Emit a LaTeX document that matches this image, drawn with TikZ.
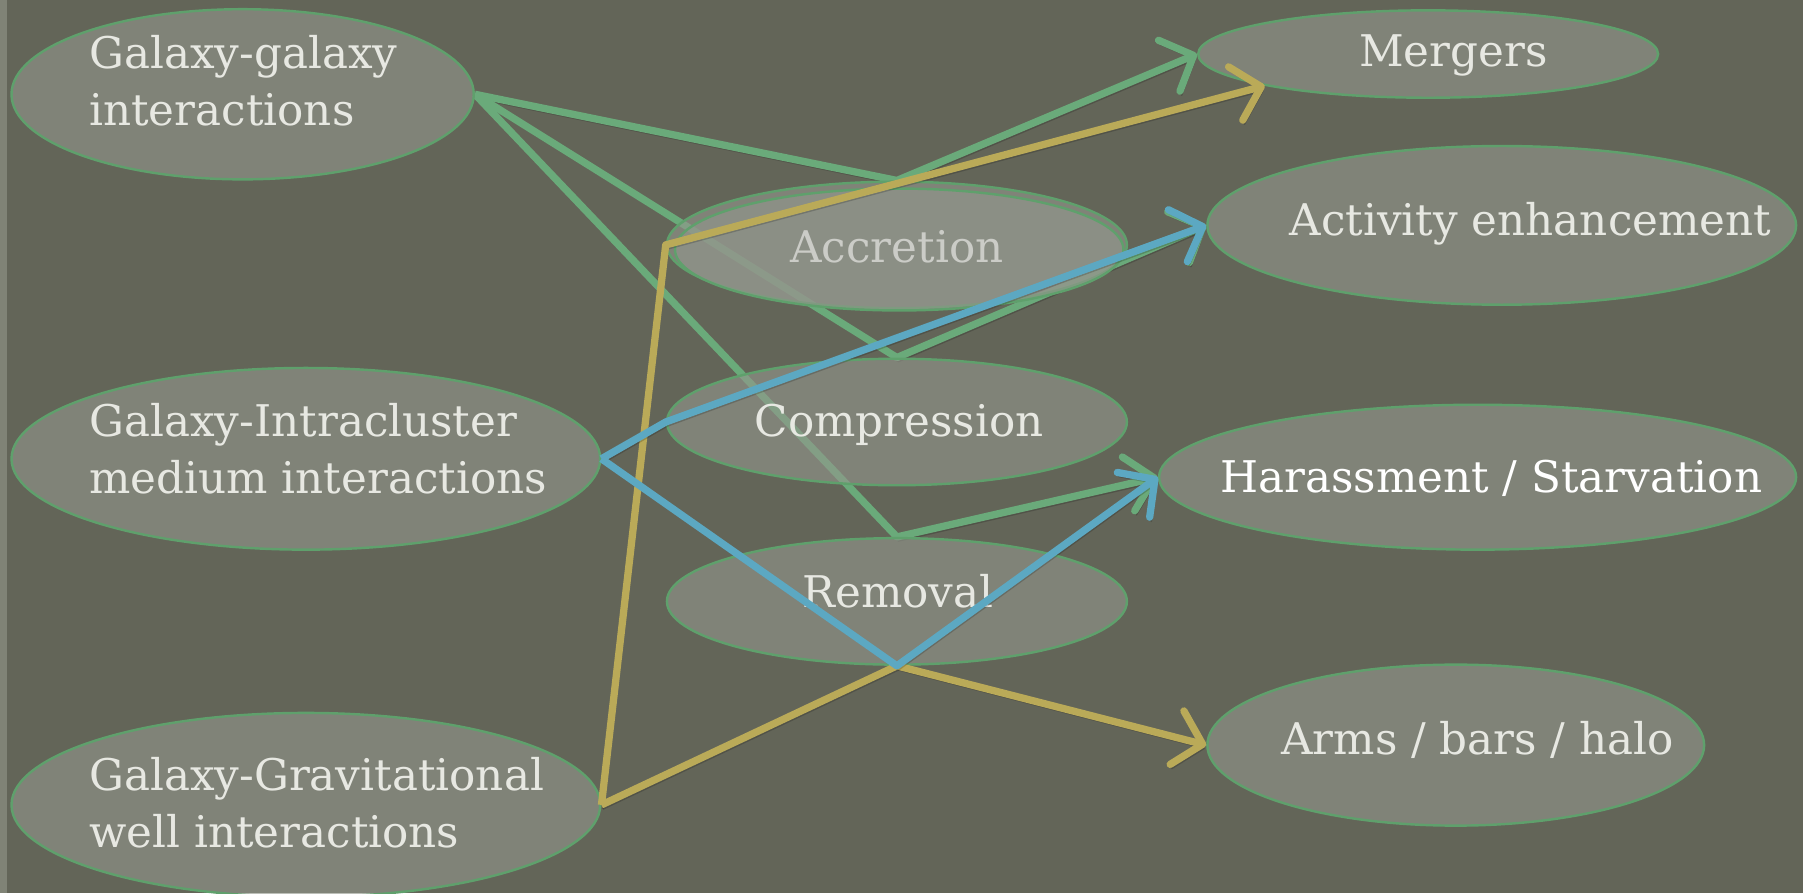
\documentclass[tikz,border=0pt]{standalone}
\usepackage{fontspec}
\setmainfont{DejaVu Serif}
\usepackage{xcolor}
\usepackage{tikz}
\usetikzlibrary{arrows.meta,calc,positioning,shapes.geometric}

\definecolor{bgolive}{RGB}{99,101,88}
\definecolor{stripfill}{RGB}{128,131,118}
\definecolor{bubblefill}{RGB}{147,151,141}
\definecolor{bubbleline}{RGB}{95,160,108}
\definecolor{txtgray}{RGB}{231,232,226}
\definecolor{lngreen}{RGB}{106,170,122}
\definecolor{lnyellow}{RGB}{186,170,88}
\definecolor{lnblue}{RGB}{92,168,194}

\pgfdeclarelayer{bg}
\pgfdeclarelayer{under}
\pgfsetlayers{bg,under,main}

\begin{document}
\begin{tikzpicture}[
  bubble/.style={ellipse, draw=bubbleline, line width=0.6pt, fill=bubblefill, fill opacity=0.62, inner sep=0pt},
  lbl/.style={text=txtgray, inner sep=0pt, font=\fontsize{10.8}{14}\selectfont},
  link/.style={line width=1.8pt, line join=round, -{Straight Barb[length=2.3mm,width=4.8mm,round]},
    preaction={draw=black, opacity=0.18, transform canvas={xshift=0.4pt,yshift=-1pt}}}
]
\useasboundingbox (0,0) rectangle (15.68,-7.77);
\begin{pgfonlayer}{bg}
  \fill[bgolive] (0,0) rectangle (15.68,-7.77);
  \fill[stripfill] (0,0) rectangle (0.06,-7.77);
\end{pgfonlayer}

% sources
\node[bubble, minimum width=4.02cm, minimum height=1.48cm] (gg) at (2.11,-0.82) {};
\node[bubble, minimum width=5.12cm, minimum height=1.58cm] (gicm) at (2.66,-3.99) {};
\node[bubble, minimum width=5.12cm, minimum height=1.60cm] (ggw) at (2.66,-7.00) {};
% processes
\node[bubble, minimum width=4.00cm, minimum height=1.10cm] (accr) at (7.80,-2.13) {};
\path[bubble] ($(accr.center)+(0.02,-0.04)$) ellipse [x radius=1.95cm, y radius=0.53cm];
\node[bubble, minimum width=4.00cm, minimum height=1.10cm] (comp) at (7.80,-3.67) {};
\node[bubble, minimum width=4.00cm, minimum height=1.10cm] (remv) at (7.80,-5.23) {};
% effects
\node[bubble, minimum width=4.00cm, minimum height=0.76cm] (merg) at (12.42,-0.47) {};
\node[bubble, minimum width=5.12cm, minimum height=1.38cm] (actv) at (13.06,-1.96) {};
\node[bubble, minimum width=5.54cm, minimum height=1.26cm] (hara) at (12.85,-4.15) {};
\node[bubble, minimum width=4.32cm, minimum height=1.40cm] (arms) at (12.66,-6.48) {};

\node[lbl, anchor=west, align=left] (gg-t) at (0.77,-0.70) {Galaxy-galaxy\\interactions};
\node[lbl, anchor=west, align=left] (gicm-t) at (0.77,-3.90) {Galaxy-Intracluster\\medium interactions};
\node[lbl, anchor=west, align=left] (ggw-t) at (0.77,-6.98) {Galaxy-Gravitational\\well interactions};
\node[lbl, anchor=base, text=txtgray!88!black] (accr-t) at (7.80,-2.28) {Accretion};
\node[lbl, anchor=base] (comp-t) at (7.82,-3.80) {Compression};
\node[lbl, anchor=base] (remv-t) at (7.81,-5.28) {Removal};
\node[lbl, anchor=base] (merg-t) at (12.64,-0.58) {Mergers};
\node[lbl, anchor=base] (actv-t) at (13.31,-2.05) {Activity enhancement};
\node[lbl, anchor=base, text=white] (hara-t) at (12.97,-4.28) {Harassment / Starvation};
\node[lbl, anchor=base] (arms-t) at (12.85,-6.56) {Arms / bars / halo};

%\draw[help lines] (0,0) grid (15.68,-7.77);
\begin{pgfonlayer}{under}
  \draw[link, lngreen] (gg.east) -- (accr.north) -- (merg.west);
  \draw[link, lngreen] (gg.east) -- (comp.north) -- (actv.west);
  \draw[link, lngreen] (gg.east) -- (remv.north) -- (hara.west);
\end{pgfonlayer}
\draw[link, lnyellow] (ggw.east) -- (accr.west) -- (merg.191);
\draw[link, lnyellow] (ggw.east) -- (remv.south) -- (arms.west);
\draw[link, lnblue] (gicm.east) -- (comp.west) -- (actv.west);
\draw[link, lnblue] (gicm.east) -- (remv.south) -- (hara.west);
\end{tikzpicture}
\end{document}
